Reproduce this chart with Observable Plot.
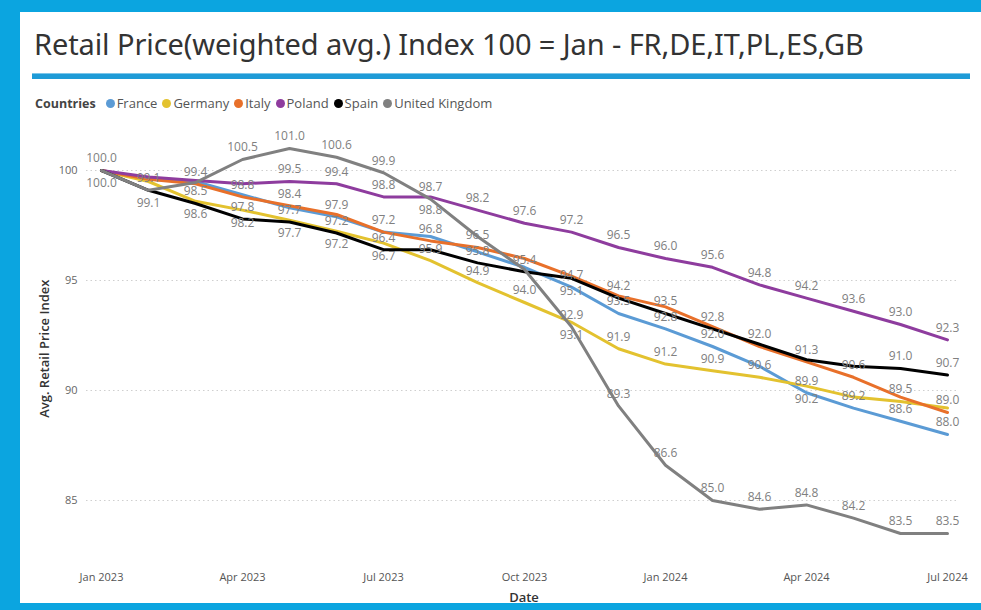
<!DOCTYPE html>
<html><head><meta charset="utf-8">
<script src="https://cdn.jsdelivr.net/npm/d3@7"></script>
<script src="https://cdn.jsdelivr.net/npm/@observablehq/plot@0.6"></script>
<style>
body{margin:0;width:981px;height:610px;background:#0ba5e0;overflow:hidden;font-family:"Open Sans","Noto Sans",sans-serif;position:relative}
#panel{position:absolute;left:20px;top:12px;width:961px;height:591px;background:#fff}
#title{position:absolute;left:34px;top:24px;font-size:29px;color:#333;white-space:nowrap;font-family:"Noto Sans",sans-serif;letter-spacing:-0.1px}
#rule{position:absolute;left:32px;top:73px;width:938px;height:5px;background:#1e9bd7;border-top:1px solid #7cc6ea}
#legend{position:absolute;left:35px;top:94px;font-size:13px;color:#555;display:flex;align-items:center;white-space:nowrap}
#legend b{color:#444;margin-right:10px;font-size:12.5px}
#legend .it{display:flex;align-items:center;margin-right:5px}
#legend .dot{width:9px;height:9px;border-radius:50%;margin-right:2px}
#chart{position:absolute;left:0;top:120px}
#chart svg{overflow:visible}
g[aria-label="y-axis label"] text, g[aria-label="x-axis label"] text{font-weight:600;fill:#333;font-size:13px}
</style></head><body>
<div id="panel"></div>
<div id="title">Retail Price(weighted avg.) Index 100 = Jan - FR,DE,IT,PL,ES,GB</div>
<div id="rule"></div>
<div id="legend"></div>
<div id="chart"></div>
<script>
const months = ["Jan 2023","Feb 2023","Mar 2023","Apr 2023","May 2023","Jun 2023","Jul 2023","Aug 2023","Sep 2023","Oct 2023","Nov 2023","Dec 2023","Jan 2024","Feb 2024","Mar 2024","Apr 2024","May 2024","Jun 2024","Jul 2024"];
const tickLabels = ["Jan 2023","Apr 2023","Jul 2023","Oct 2023","Jan 2024","Apr 2024","Jul 2024"];
const yTicks = [85, 90, 95, 100];
const countries = ["France","Germany","Italy","Poland","Spain","United Kingdom"];
const colors = ["#5b9bd5","#e3c22f","#e8702a","#8e3c9e","#000000","#808080"];

const france  = [100.0, 99.6, 99.5, 98.9, 98.3, 97.9, 97.2, 97.0, 96.3, 95.6, 94.7, 93.5, 92.8, 92.0, 91.1, 89.9, 89.2, 88.6, 88.0];
const germany = [100.0, 99.5, 98.6, 98.2, 97.74, 97.24, 96.7, 95.9, 94.9, 94.0, 93.1, 91.9, 91.2, 90.9, 90.6, 90.2, 89.7, 89.5, 89.2];
const italy   = [100.0, 99.6, 99.4, 98.8, 98.4, 98.0, 97.2, 96.8, 96.5, 96.0, 95.2, 94.3, 93.8, 92.9, 92.0, 91.3, 90.6, 89.7, 89.0];
const poland  = [100.0, 99.7, 99.55, 99.4, 99.5, 99.4, 98.8, 98.8, 98.2, 97.6, 97.2, 96.5, 96.0, 95.6, 94.8, 94.2, 93.6, 93.0, 92.3];
const spain   = [100.0, 99.1, 98.5, 97.8, 97.66, 97.16, 96.4, 96.4, 95.8, 95.4, 95.1, 94.2, 93.5, 92.8, 92.1, 91.4, 91.1, 91.0, 90.7];
const uk      = [100.0, 99.1, 99.45, 100.5, 101.0, 100.6, 99.9, 98.7, 97.0, 95.5, 92.9, 89.3, 86.6, 85.0, 84.6, 84.8, 84.2, 83.5, 83.5];

const seriesArrays = [france, germany, italy, poland, spain, uk];
const table = countries.flatMap((c, k) => seriesArrays[k].map((v, i) => ({country: c, month: months[i], i, value: v})));

// legend
const legend = document.getElementById("legend");
legend.innerHTML = "<b>Countries</b>" + countries.map((c, k) =>
  `<span class="it"><span class="dot" style="background:${colors[k]}"></span>${c}</span>`).join("");

const W = 981, H = 490, mT = 17, yDom = [82.3, 101.5], pxU = 22;
const mB = H - mT - (yDom[1] - yDom[0]) * pxU;

// label placement (lowest first: above, else below, else hidden)
const up = 12, down = 13, gap = 15;
const above = [], below = [];
months.forEach((m, i) => {
  const pts = table.filter(d => d.i === i).sort((a, b) => a.value - b.value);
  const placed = [];
  for (const p of pts) {
    const py = mT + (yDom[1] - p.value) * pxU;
    const cands = [[py - up, above], [py + down, below]];
    for (const [c, arr] of cands) {
      if (placed.every(q => Math.abs(q - c) >= gap)) { placed.push(c); arr.push(p); break; }
    }
  }
});

const fmt = d => d.value.toFixed(1);
const chart = Plot.plot({
  width: W, height: H,
  marginLeft: 96, marginRight: 30, marginTop: mT, marginBottom: mB,
  style: {fontFamily: "'Open Sans','Noto Sans',sans-serif", background: "transparent", overflow: "visible"},
  x: {type: "point", domain: months, padding: 0},
  y: {domain: yDom},
  color: {domain: countries, range: colors},
  marks: [
    Plot.ruleY(yTicks, {stroke: "#cfcfcf", strokeDasharray: "1.5,3", insetLeft: -10, insetRight: -7}),
    Plot.axisY({ticks: yTicks, tickSize: 0, tickPadding: 19, fontSize: 11, color: "#666",
      label: "Avg. Retail Price Index", labelAnchor: "center", labelOffset: 57, labelArrow: "none"}),
    Plot.axisX({ticks: tickLabels, tickSize: 0, tickPadding: 13, fontSize: 11, color: "#555",
      label: "Date", labelAnchor: "center", labelOffset: 42, labelArrow: "none"}),
    Plot.line(table, {x: "month", y: "value", z: "country", stroke: "country", strokeWidth: 3, strokeLinejoin: "round", strokeLinecap: "round"}),
    Plot.text(above, {x: "month", y: "value", text: fmt, dy: -up, fill: "#808080", fontSize: 12}),
    Plot.text(below, {x: "month", y: "value", text: fmt, dy: down, fill: "#808080", fontSize: 12})
  ]
});
document.getElementById("chart").appendChild(chart);
</script>
</body></html>
